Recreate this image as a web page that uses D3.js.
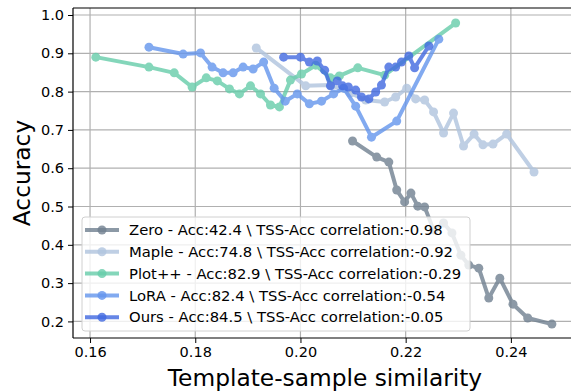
<!DOCTYPE html>
<html>
<head>
<meta charset="utf-8">
<script src="https://cdn.jsdelivr.net/npm/d3@7"></script>
<style>
  body { margin: 0; background: #fff; }
  svg { font-family: "DejaVu Sans", sans-serif; }
</style>
</head>
<body>
<svg id="chart" width="571" height="391"></svg>
<script>
// series (x = template-sample similarity, y = accuracy)
const zeroX = [0.2099, 0.2145, 0.2168, 0.2183, 0.2198, 0.2210, 0.2223, 0.2236, 0.2253, 0.2272, 0.2288, 0.2305, 0.2320, 0.2339, 0.2358, 0.2379, 0.2404, 0.2432, 0.2478];
const zeroY = [0.671, 0.629, 0.616, 0.543, 0.512, 0.535, 0.501, 0.499, 0.439, 0.457, 0.431, 0.373, 0.347, 0.339, 0.261, 0.313, 0.245, 0.209, 0.193];

const mapleX = [0.1916, 0.2010, 0.2057, 0.2095, 0.2124, 0.2160, 0.2181, 0.2202, 0.2219, 0.2236, 0.2253, 0.2272, 0.2291, 0.2310, 0.2330, 0.2347, 0.2366, 0.2392, 0.2444];
const mapleY = [0.914, 0.815, 0.817, 0.796, 0.778, 0.773, 0.786, 0.809, 0.781, 0.778, 0.747, 0.692, 0.744, 0.658, 0.689, 0.661, 0.663, 0.689, 0.590];

const plotX = [0.1611, 0.1712, 0.1760, 0.1794, 0.1821, 0.1842, 0.1865, 0.1884, 0.1905, 0.1924, 0.1943, 0.1960, 0.1981, 0.2002, 0.2029, 0.2057, 0.2074, 0.2109, 0.2160, 0.2295];
const plotY = [0.890, 0.864, 0.849, 0.812, 0.836, 0.828, 0.807, 0.794, 0.815, 0.794, 0.765, 0.760, 0.830, 0.846, 0.869, 0.836, 0.841, 0.862, 0.843, 0.979];

const loraX = [0.1712, 0.1777, 0.1810, 0.1832, 0.1853, 0.1872, 0.1891, 0.1910, 0.1930, 0.1950, 0.1971, 0.1994, 0.2017, 0.2040, 0.2063, 0.2082, 0.2105, 0.2135, 0.2183, 0.2263];
const loraY = [0.916, 0.898, 0.901, 0.864, 0.849, 0.849, 0.864, 0.859, 0.877, 0.809, 0.775, 0.794, 0.768, 0.775, 0.794, 0.809, 0.762, 0.681, 0.723, 0.937];

const oursX = [0.1968, 0.2000, 0.2017, 0.2032, 0.2046, 0.2057, 0.2070, 0.2080, 0.2091, 0.2105, 0.2116, 0.2130, 0.2143, 0.2154, 0.2168, 0.2181, 0.2192, 0.2206, 0.2217, 0.2244];
const oursY = [0.890, 0.890, 0.877, 0.880, 0.856, 0.815, 0.828, 0.815, 0.812, 0.804, 0.786, 0.781, 0.799, 0.817, 0.864, 0.864, 0.877, 0.893, 0.862, 0.919];

const labels = [
  "Zero - Acc:42.4 \\ TSS-Acc correlation:-0.98",
  "Maple - Acc:74.8 \\ TSS-Acc correlation:-0.92",
  "Plot++ - Acc:82.9 \\ TSS-Acc correlation:-0.29",
  "LoRA - Acc:82.4 \\ TSS-Acc correlation:-0.54",
  "Ours - Acc:84.5 \\ TSS-Acc correlation:-0.05"
];
const colors = ["#708090", "#b0c4de", "#66cdaa", "#6495ed", "#4169e1"];

const xTicks = [0.16, 0.18, 0.20, 0.22, 0.24];
const yTicks = [0.2, 0.3, 0.4, 0.5, 0.6, 0.7, 0.8, 0.9, 1.0];

const series = [
  { xs: zeroX, ys: zeroY },
  { xs: mapleX, ys: mapleY },
  { xs: plotX, ys: plotY },
  { xs: loraX, ys: loraY },
  { xs: oursX, ys: oursY }
].map((s, i) => ({ label: labels[i], color: colors[i], pts: s.xs.map((x, j) => [x, s.ys[j]]) }));

const pLeft = 73, pTop = 8, pRight = 576, pBottom = 338;

const x = d3.scaleLinear().domain([0.15676, 0.25238]).range([pLeft, pRight]);
const y = d3.scaleLinear().domain([0.1567, 1.0183]).range([pBottom, pTop]);

const svg = d3.select("#chart");

// grid
svg.append("g")
  .selectAll("line")
  .data(xTicks)
  .enter().append("line")
  .attr("x1", d => x(d)).attr("x2", d => x(d))
  .attr("y1", pTop).attr("y2", pBottom)
  .attr("stroke", "#b0b0b0").attr("stroke-width", 1.2);

svg.append("g")
  .selectAll("line")
  .data(yTicks)
  .enter().append("line")
  .attr("x1", pLeft).attr("x2", pRight)
  .attr("y1", d => y(d)).attr("y2", d => y(d))
  .attr("stroke", "#b0b0b0").attr("stroke-width", 1.2);

// lines + markers
const line = d3.line().x(d => x(d[0])).y(d => y(d[1]));

series.forEach(s => {
  const g = svg.append("g").attr("opacity", 0.8);
  g.append("path")
    .attr("d", line(s.pts))
    .attr("fill", "none")
    .attr("stroke", s.color)
    .attr("stroke-width", 4)
    .attr("stroke-linejoin", "round");
  g.selectAll("circle")
    .data(s.pts)
    .enter().append("circle")
    .attr("cx", d => x(d[0]))
    .attr("cy", d => y(d[1]))
    .attr("r", 4.5)
    .attr("fill", s.color);
});

// axes
const xAxis = svg.append("g")
  .attr("transform", "translate(0," + pBottom + ")")
  .call(d3.axisBottom(x).tickValues(xTicks).tickFormat(d3.format(".2f")).tickSize(5).tickPadding(4));
const yAxis = svg.append("g")
  .attr("transform", "translate(" + pLeft + ",0)")
  .call(d3.axisLeft(y).tickValues(yTicks).tickFormat(d3.format(".1f")).tickSize(5).tickPadding(4));

[xAxis, yAxis].forEach(a => {
  a.selectAll("text").attr("font-size", 14.5).attr("fill", "#000").attr("font-family", "DejaVu Sans");
  a.selectAll("line").attr("stroke", "#000").attr("stroke-width", 1);
  a.select(".domain").remove();
});

// spines
svg.append("line").attr("x1", pLeft).attr("x2", pLeft).attr("y1", pTop).attr("y2", pBottom).attr("stroke", "#000").attr("stroke-width", 1.2);
svg.append("line").attr("x1", pLeft).attr("x2", pRight).attr("y1", pBottom).attr("y2", pBottom).attr("stroke", "#000").attr("stroke-width", 1.2);
svg.append("line").attr("x1", pLeft).attr("x2", pRight).attr("y1", pTop).attr("y2", pTop).attr("stroke", "#000").attr("stroke-width", 1.2);

// axis titles
svg.append("text")
  .attr("x", 325).attr("y", 386)
  .attr("text-anchor", "middle")
  .attr("font-size", 23.3)
  .text("Template-sample similarity");

svg.append("text")
  .attr("transform", "translate(30,173) rotate(-90)")
  .attr("text-anchor", "middle")
  .attr("font-size", 23.3)
  .text("Accuracy");

// legend
const legend = svg.append("g").attr("transform", "translate(82,217)");
legend.append("rect")
  .attr("width", 388).attr("height", 114)
  .attr("rx", 3)
  .attr("fill", "#fff").attr("fill-opacity", 0.8)
  .attr("stroke", "#d0d0d0");

series.forEach((s, i) => {
  const row = legend.append("g").attr("transform", "translate(0," + (13 + i * 21.8) + ")");
  row.append("line")
    .attr("x1", 3).attr("x2", 37)
    .attr("stroke", s.color).attr("stroke-width", 4).attr("opacity", 0.8);
  row.append("circle")
    .attr("cx", 20).attr("r", 4.5)
    .attr("fill", s.color).attr("opacity", 0.8);
  row.append("text")
    .attr("x", 47).attr("dy", "0.35em")
    .attr("font-size", 14.8)
    .text(s.label);
});
</script>
</body>
</html>
